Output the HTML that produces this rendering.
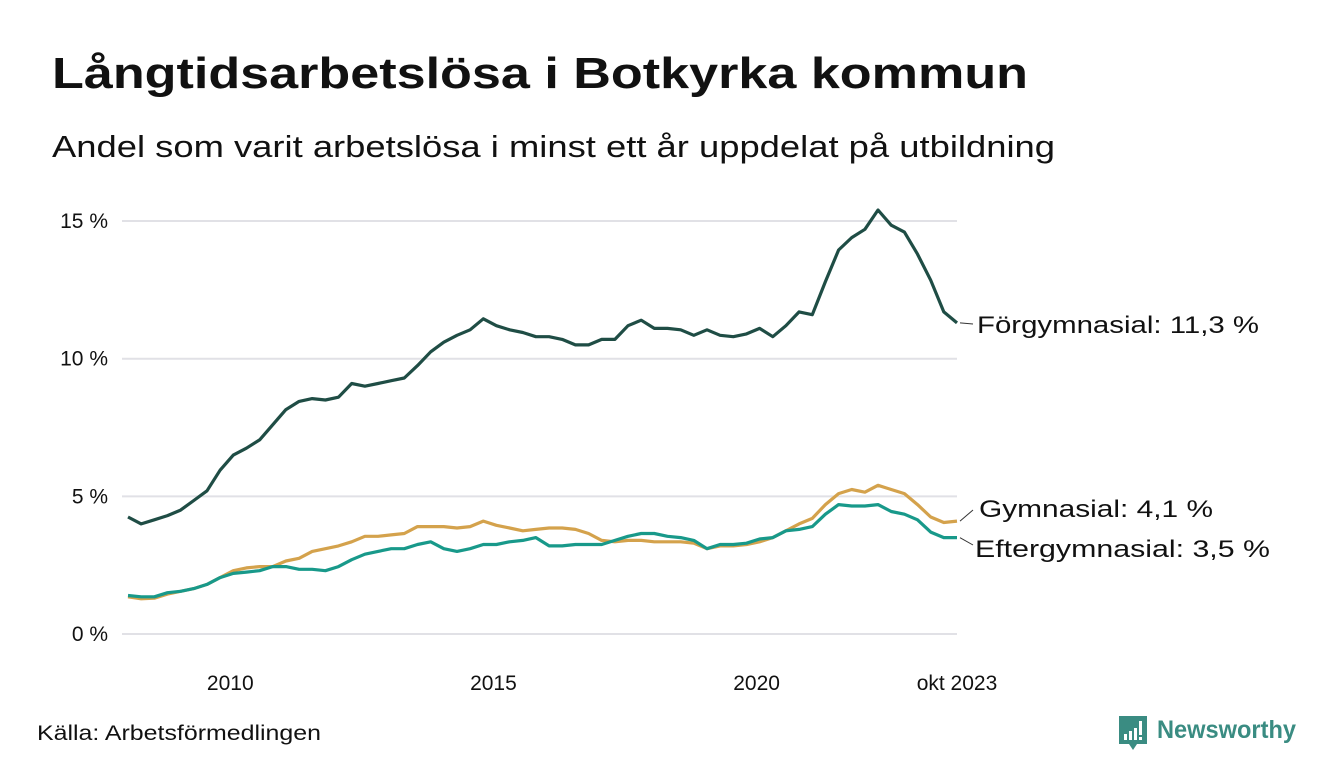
<!DOCTYPE html>
<html><head><meta charset="utf-8"><style>
html,body{margin:0;padding:0;background:#fff;}
svg{display:block;font-family:"Liberation Sans",sans-serif;}
</style></head><body>
<svg id="chart" width="1340" height="780" viewBox="0 0 1340 780" xmlns="http://www.w3.org/2000/svg">
<text x="52" y="88" font-size="44" font-weight="bold" fill="#111" textLength="976" lengthAdjust="spacingAndGlyphs">Långtidsarbetslösa i Botkyrka kommun</text>
<text x="52" y="157" font-size="31" fill="#111" textLength="1003" lengthAdjust="spacingAndGlyphs">Andel som varit arbetslösa i minst ett år uppdelat på utbildning</text>
<g id="grid"></g>
<g id="yaxis"></g>
<g id="xaxis"></g>
<g id="lines"></g>
<g id="labels"></g>
<text x="37" y="740" font-size="21" fill="#111" textLength="284" lengthAdjust="spacingAndGlyphs">Källa: Arbetsförmedlingen</text>
<g>
<path d="M1119 716 h28 v28 h-10 l-4 6 l-4 -6 h-10 z" fill="#3a8c82"/>
<rect x="1124" y="734" width="3" height="6" fill="#fff"/>
<rect x="1129" y="731" width="3" height="9" fill="#fff"/>
<rect x="1134" y="728" width="3" height="12" fill="#fff"/>
<rect x="1139" y="721" width="3" height="14" fill="#fff"/>
<rect x="1139" y="737" width="3" height="3" fill="#fff"/>
<text x="1157" y="738" font-size="25" font-weight="bold" fill="#3a8c82" textLength="139" lengthAdjust="spacingAndGlyphs">Newsworthy</text>
</g>
</svg>
<script>
const yTicks = [0, 5, 10, 15];
const yTickLabels = ["0 %", "5 %", "10 %", "15 %"];
const xTickYears = [2010, 2015, 2020];
const xTickLabels = ["2010", "2015", "2020"];
const lastLabel = "okt 2023";
const startYear = 2008, startMonth = 0, stepMonths = 3;
const forgymnasial = [4.25,4.0,4.15,4.3,4.5,4.85,5.2,5.95,6.5,6.75,7.05,7.6,8.15,8.45,8.55,8.5,8.6,9.1,9.0,9.1,9.2,9.3,9.75,10.25,10.6,10.85,11.05,11.45,11.2,11.05,10.95,10.8,10.8,10.7,10.5,10.5,10.7,10.7,11.2,11.4,11.1,11.1,11.05,10.85,11.05,10.85,10.8,10.9,11.1,10.8,11.2,11.7,11.6,12.8,13.95,14.4,14.7,15.4,14.85,14.6,13.8,12.85,11.7,11.3];
const gymnasial = [1.35,1.28,1.3,1.45,1.55,1.65,1.8,2.05,2.3,2.4,2.45,2.45,2.65,2.75,3.0,3.1,3.2,3.35,3.55,3.55,3.6,3.65,3.9,3.9,3.9,3.85,3.9,4.1,3.95,3.85,3.75,3.8,3.85,3.85,3.8,3.65,3.4,3.35,3.4,3.4,3.35,3.35,3.35,3.3,3.1,3.2,3.2,3.25,3.35,3.5,3.75,4.0,4.2,4.7,5.1,5.25,5.15,5.4,5.25,5.1,4.7,4.25,4.05,4.1];
const eftergymnasial = [1.4,1.35,1.35,1.5,1.55,1.65,1.8,2.05,2.2,2.25,2.3,2.45,2.45,2.35,2.35,2.3,2.45,2.7,2.9,3.0,3.1,3.1,3.25,3.35,3.1,3.0,3.1,3.25,3.25,3.35,3.4,3.5,3.2,3.2,3.25,3.25,3.25,3.4,3.55,3.65,3.65,3.55,3.5,3.4,3.1,3.25,3.25,3.3,3.45,3.5,3.75,3.8,3.9,4.35,4.7,4.65,4.65,4.7,4.45,4.35,4.15,3.7,3.5,3.5];
const seriesNames = ["Förgymnasial: 11,3 %", "Gymnasial:  4,1 %", "Eftergymnasial:  3,5 %"];

const NS = "http://www.w3.org/2000/svg";
const x0 = 128, x1 = 957, totalMonths = (forgymnasial.length - 1) * stepMonths;
function xMonth(m){ return x0 + (x1 - x0) * m / totalMonths; }
function xIdx(i){ return xMonth(i * stepMonths); }
function y(v){ return 634 - v * 27.53; }
function mk(tag, attrs, parent){ const e = document.createElementNS(NS, tag); for (const k in attrs) e.setAttribute(k, attrs[k]); parent.appendChild(e); return e; }

const grid = document.getElementById('grid'), ya = document.getElementById('yaxis'), xa = document.getElementById('xaxis');
yTicks.forEach((t, i) => {
  const l = mk('line', {x1: 122, x2: 957, y1: y(t), y2: y(t), stroke: '#e1e1e6', 'stroke-width': 2}, grid);
  
  
  const tx = mk('text', {x: 108, y: y(t) + 7, 'font-size': 21, fill: '#111', 'text-anchor': 'end'}, ya);
  tx.textContent = yTickLabels[i];
  
  
});
xTickYears.forEach((yr, i) => {
  const m = (yr - startYear) * 12 - startMonth;
  const tx = mk('text', {x: xMonth(m) - 3, y: 690, 'font-size': 21, fill: '#111', 'text-anchor': 'middle'}, xa);
  tx.textContent = xTickLabels[i];
  
  
});
const lt = mk('text', {x: x1, y: 690, 'font-size': 21, fill: '#111', 'text-anchor': 'middle'}, xa);
lt.textContent = lastLabel;



const lines = document.getElementById('lines');
const series = [[gymnasial, '#d4a24c', 'line-gymnasial'], [eftergymnasial, '#18998a', 'line-eftergymnasial'], [forgymnasial, '#1f4d45', 'line-forgymnasial']];
series.forEach(s => {
  const d = s[0].map((v, i) => (i ? 'L' : 'M') + xIdx(i).toFixed(1) + ' ' + y(v).toFixed(1)).join(' ');
  const p = mk('path', {d: d, fill: 'none', stroke: s[1], 'stroke-width': 3.2, 'stroke-linejoin': 'round'}, lines);
  
  
});

const lab = document.getElementById('labels');
const labs = [[seriesNames[0], 977, 333, 282, forgymnasial, 324], [seriesNames[1], 979, 517, 234, gymnasial, 510], [seriesNames[2], 975, 557, 295, eftergymnasial, 545]];
labs.forEach((L, i) => {
  const last = L[4][L[4].length - 1];
  const ln = mk('line', {x1: 960, y1: y(last), x2: 973, y2: L[5], stroke: '#333', 'stroke-width': 1}, lab);
  
  
  const t = mk('text', {x: L[1], y: L[2], 'font-size': 24, fill: '#111', textLength: L[3], lengthAdjust: 'spacingAndGlyphs'}, lab);
  t.textContent = L[0];
  
  
});
</script>
</body></html>
